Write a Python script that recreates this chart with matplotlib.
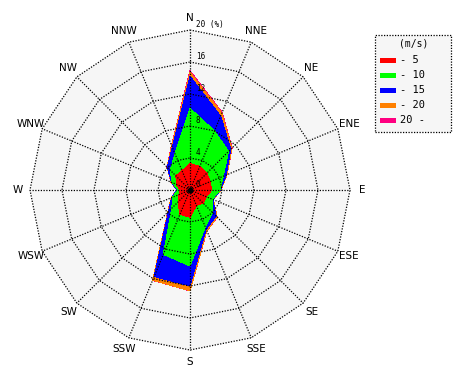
import numpy as np
import matplotlib
matplotlib.use("Agg")
import matplotlib.pyplot as plt
from matplotlib.patches import Polygon, Rectangle

# ---------------- data ----------------
directions = ["N", "NNE", "NE", "ENE", "E", "ESE", "SE", "SSE",
              "S", "SSW", "SW", "WSW", "W", "WNW", "NW", "NNW"]
speed_labels = ["- 5", "- 10", "- 15", "- 20", "20 -"]
# frequency (%) per speed class and direction
f_0_5   = [3.3, 3.2, 3.0, 2.7, 2.7, 2.2, 2.3, 2.1, 3.4, 3.3, 2.1, 1.5, 1.3, 1.8, 2.5, 2.6]
f_5_10  = [6.9, 4.8, 3.8, 1.8, 1.05, 0.8, 1.7, 2.9, 6.1, 5.4, 1.1, 0.9, 0.2, 0.6, 1.0, 2.3]
f_10_15 = [4.0, 2.0, 0.4, 0.4, 0.05, 0.1, 0.6, 0.3, 2.5, 3.0, 0.6, 0.1, 0.1, 0.1, 0.5, 0.9]
f_15_20 = [0.5, 0.4, 0.2, 0.1, 0.05, 0.05, 0.2, 0.2, 0.6, 0.5, 0.1, 0.05, 0.02, 0.05, 0.05, 0.2]
f_20p   = [0.2, 0.1, 0.05, 0.02, 0.01, 0.01, 0.02, 0.02, 0.02, 0.02, 0.02, 0.01, 0.01, 0.02, 0.02, 0.05]
ring_values = [4, 8, 12, 16, 20]
ring_labels = ["0", "4", "8", "12", "16", "20 (%)"]
colors = ["#ff0000", "#00ff00", "#0000ff", "#ff8000", "#ff0080"]

# ---------------- figure ----------------
W, H = 470, 380
CX, CY, SCALE = 190, 190, 8.0   # pixel centre and px per %
fig = plt.figure(figsize=(W / 100, H / 100), dpi=100)
ax = fig.add_axes([0, 0, 1, 1])
ax.set_xlim(-CX / SCALE, (W - CX) / SCALE)
ax.set_ylim(-(H - CY) / SCALE, CY / SCALE)
ax.set_aspect("auto")
ax.axis("off")

def P(px, py):
    return ((px - CX) / SCALE, (CY - py) / SCALE)

n = len(directions)
theta = np.deg2rad(np.arange(n) * 360.0 / n)

def poly_xy(r):
    r = np.asarray(r, dtype=float)
    return np.column_stack([r * np.sin(theta), r * np.cos(theta)])

rmax = ring_values[-1]
# background of rose
ax.add_patch(Polygon(poly_xy(np.full(n, rmax)), closed=True,
                     facecolor="#f6f6f6", edgecolor="none", zorder=0))

# stacked layers
layers = [f_0_5, f_5_10, f_10_15, f_15_20, f_20p]
cum = np.cumsum(np.array(layers, dtype=float), axis=0)
for i in range(len(layers) - 1, -1, -1):
    ax.add_patch(Polygon(poly_xy(cum[i]), closed=True, facecolor=colors[i],
                         edgecolor="none", zorder=2 + (len(layers) - i) * 0.01,
                         antialiased=False))

dot = dict(color="black", lw=0.9, linestyle=(0, (1, 1.2)), zorder=5)
# rings
for rv in ring_values:
    xy = poly_xy(np.full(n, rv))
    xy = np.vstack([xy, xy[:1]])
    ax.plot(xy[:, 0], xy[:, 1], **dot)
# spokes
for t in theta:
    ax.plot([0, rmax * np.sin(t)], [0, rmax * np.cos(t)], **dot)
ax.plot([0], [0], "o", color="black", ms=3, zorder=6)

# ring labels
mono = ["DejaVu Sans Mono"]
for k, lab in enumerate(ring_labels):
    rv = 0 if k == 0 else ring_values[k - 1]
    ax.text(0.75, rv + 0.15, lab, fontsize=5.5, family=mono,
            ha="left", va="bottom", zorder=7)

# direction labels
lab_font = ["Liberation Sans Narrow", "DejaVu Sans"]
for t, d in zip(theta, directions):
    rr = 21.5
    ax.text(rr * np.sin(t), rr * np.cos(t), d, fontsize=7.5, family=lab_font,
            ha="center", va="center", zorder=7)

# legend
x0, y0 = P(375, 35)
x1, y1 = P(451, 132)
ax.add_patch(Rectangle((x0, y1), x1 - x0, y0 - y1, facecolor="#f6f6f6",
                       edgecolor="black", lw=0.9, linestyle=(0, (1, 1.2)), zorder=8))
tx, ty = P(414, 43)
ax.text(tx, ty, "(m/s)", fontsize=7, family=mono, ha="center", va="center", zorder=9)
for i, lab in enumerate(speed_labels):
    py = 60 + i * 15
    sx0, sy0 = P(380, py + 2.5)
    sx1, sy1 = P(396, py - 2.5)
    ax.add_patch(Rectangle((sx0, sy0), sx1 - sx0, sy1 - sy0, facecolor=colors[i],
                           edgecolor="none", zorder=9))
    lx, ly = P(400, py)
    ax.text(lx, ly, lab, fontsize=7.5, family=mono, ha="left", va="center", zorder=9)

fig.savefig("out.png", dpi=100, facecolor="white")
